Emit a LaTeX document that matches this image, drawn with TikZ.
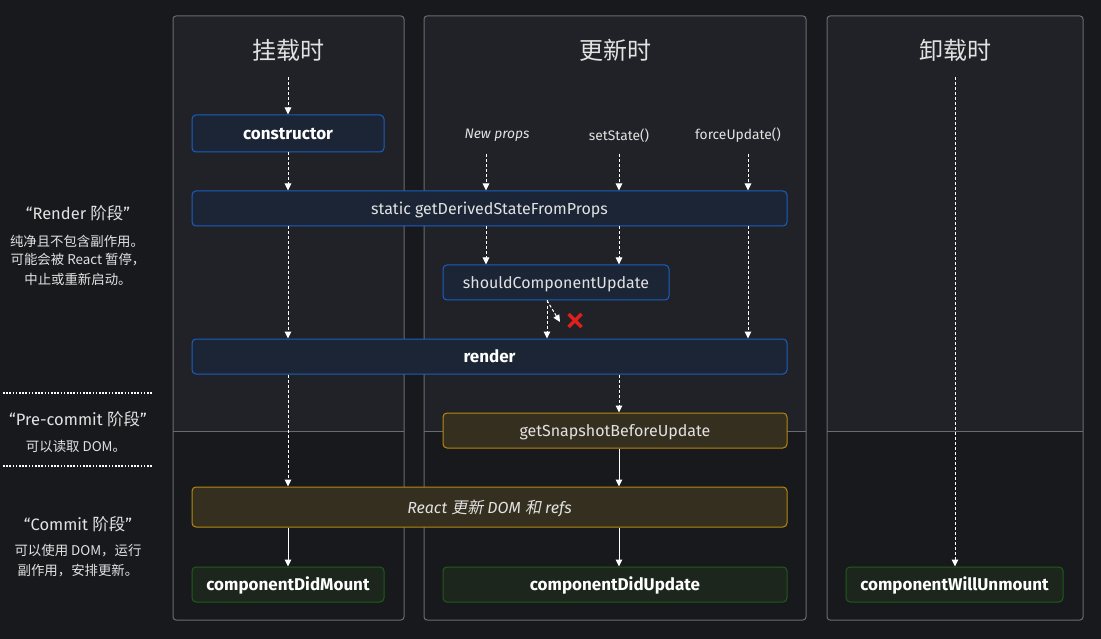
\documentclass[tikz,border=0pt]{standalone}
\usepackage{fontspec}
\setmainfont{Fira Sans}
\newfontfamily\cjk{Noto Sans CJK SC}
\newfontfamily\cjkit{Noto Sans CJK SC}[FakeSlant=0.2]
\usetikzlibrary{arrows.meta}
\definecolor{bg}{HTML}{18191D}
\definecolor{colup}{HTML}{202227}
\definecolor{frame}{HTML}{6A6B6E}
\definecolor{bbord}{HTML}{1A5FC0}
\definecolor{bfill}{HTML}{1B2535}
\definecolor{gbord}{HTML}{B8890E}
\definecolor{gfill}{HTML}{352F1F}
\definecolor{nbord}{HTML}{1E5D18}
\definecolor{nfill}{HTML}{1C261D}
\definecolor{txt}{HTML}{E2E2E2}
\definecolor{xred}{HTML}{E0201C}
\tikzset{
  colframe/.style={draw=frame, line width=1pt, rounded corners=3pt},
  divline/.style={draw=frame, line width=1pt},
  boxbase/.style={rounded corners=4pt, line width=1pt, inner sep=0pt, text=txt, text height=13pt, text depth=1pt, font=\fontsize{16}{19}\selectfont},
  boldtxt/.style={font=\bfseries\fontsize{17}{20}\selectfont, text=white},
  bluebox/.style={boxbase, draw=bbord, fill=bfill},
  goldbox/.style={boxbase, draw=gbord, fill=gfill},
  greenbox/.style={boxbase, draw=nbord, fill=nfill},
  ttl/.style={text=txt, font=\cjk\fontsize{24}{28}\selectfont},
  lbl/.style={text=txt, font=\fontsize{13.8}{16}\selectfont},
  lhead/.style={text=txt, font=\fontsize{16.5}{20}\selectfont},
  lbody/.style={text=txt, font=\cjk\fontsize{13.4}{16}\selectfont},
  da/.style={draw=white, line width=1pt, dash pattern=on 3pt off 2pt, -{Triangle[length=7pt,width=6.5pt]}},
  sa/.style={draw=white, line width=1pt, -{Triangle[length=7pt,width=6.5pt]}},
  dotline/.style={draw=white, line width=1.6pt, dash pattern=on 1.6pt off 1.6pt},
}
\begin{document}
\begin{tikzpicture}[x=1pt,y=-1pt]
\useasboundingbox (0,0) rectangle (1101,639);
\fill[bg] (0,0) rectangle (1101,639);

% columns
\fill[colup] (173,431) [rounded corners=3pt] -- (173,16) -- (404,16) [sharp corners] -- (404,431) -- cycle;
\fill[colup] (424,431) [rounded corners=3pt] -- (424,16) -- (806,16) [sharp corners] -- (806,431) -- cycle;
\fill[colup] (827,431) [rounded corners=3pt] -- (827,16) -- (1083,16) [sharp corners] -- (1083,431) -- cycle;
\draw[divline] (173,431) -- (404,431);
\draw[divline] (424,431) -- (806,431);
\draw[divline] (827,431) -- (1083,431);
\draw[colframe] (173,16) rectangle (404,620);
\draw[colframe] (424,16) rectangle (806,620);
\draw[colframe] (827,16) rectangle (1083,620);

% titles
\node[ttl] (tmount) at (288,50) {挂载时};
\node[ttl] (tupd) at (615,50) {更新时};
\node[ttl] (tunm) at (955,50) {卸载时};

% boxes
\node[bluebox, boldtxt, minimum width=192pt, minimum height=37pt] (ctor) at (288,133.5) {constructor};
\node[bluebox, minimum width=595pt, minimum height=35pt] (gdsfp) at (489.5,208.5) {static getDerivedStateFromProps};
\node[bluebox, minimum width=226pt, minimum height=35pt] (scu) at (556,282.5) {shouldComponentUpdate};
\node[bluebox, boldtxt, minimum width=595pt, minimum height=35pt] (render) at (489.5,356.5) {render};
\node[goldbox, minimum width=344pt, minimum height=35pt] (gsbu) at (615,430.5) {getSnapshotBeforeUpdate};
\node[goldbox, minimum width=595pt, minimum height=40pt] (rdom) at (489.5,507) {\itshape React {\cjkit 更新} DOM {\cjkit 和} refs};
\node[greenbox, boldtxt, minimum width=192pt, minimum height=35pt] (cdm) at (288,584.5) {componentDidMount};
\node[greenbox, boldtxt, minimum width=344pt, minimum height=35pt] (cdu) at (615,584.5) {componentDidUpdate};
\node[greenbox, boldtxt, minimum width=217pt, minimum height=35pt] (cwu) at (954.5,584.5) {componentWillUnmount};

% trigger labels
\node[lbl, font=\itshape\fontsize{13.8}{16}\selectfont] (np) at (497,135.5) {New props};
\node[lbl] (ss) at (619,135.5) {setState()};
\node[lbl] (fu) at (738,135.5) {forceUpdate()};

% arrow anchors
\coordinate (t1) at (288,77);
\coordinate (t3) at (955,77);
\coordinate (a1) at (486,154);
\coordinate (a2) at (619,154);
\coordinate (a3) at (748,154);
\coordinate (s1) at (547,300);
\coordinate (dx) at (560,322);

% mount column
\draw[da] (t1) -- (ctor.north);
\draw[da] (ctor.south) -- (ctor.south |- gdsfp.north);
\draw[da] (ctor.south |- gdsfp.south) -- (ctor.south |- render.north);
\draw[da] (ctor.south |- render.south) -- (ctor.south |- rdom.north);
\draw[sa] (ctor.south |- rdom.south) -- (cdm.north);

% update column
\draw[da] (a1) -- (a1 |- gdsfp.north);
\draw[da] (a1 |- gdsfp.south) -- (a1 |- scu.north);
\draw[da] (a2) -- (a2 |- gdsfp.north);
\draw[da] (a2 |- gdsfp.south) -- (a2 |- scu.north);
\draw[da] (a3) -- (a3 |- gdsfp.north);
\draw[da] (a3 |- gdsfp.south) -- (a3 |- render.north);
\draw[da] (s1 |- scu.south) -- (s1 |- render.north);
\draw[da] (s1 |- scu.south) -- (dx);
\draw[xred, line width=3.2pt] (568.5,314) -- (581.5,327) (581.5,314) -- (568.5,327);
\draw[da] (a2 |- render.south) -- (a2 |- gsbu.north);
\draw[sa] (a2 |- gsbu.south) -- (a2 |- rdom.north);
\draw[sa] (a2 |- rdom.south) -- (a2 |- cdu.north);

% unmount column
\draw[da] (t3) -- (t3 |- cwu.north);

% left legend
\node[lhead] (rh) at (78,213) {“Render {\cjk 阶段}”};
\node[lbody] (rb1) at (77,241) {纯净且不包含副作用。};
\node[lbody] (rb2) at (78,260) {可能会被 React 暂停，};
\node[lbody] (rb3) at (78,279) {中止或重新启动。};
\draw[dotline] (3,393) -- (153,393);
\node[lhead] (ph) at (78,419) {“Pre-commit {\cjk 阶段}”};
\node[lbody] (pb1) at (76,446) {可以读取 DOM。};
\draw[dotline] (3,466) -- (153,466);
\node[lhead] (ch) at (78,524) {“Commit {\cjk 阶段}”};
\node[lbody] (cb1) at (78,551) {可以使用 DOM，运行};
\node[lbody] (cb2) at (78,571) {副作用，安排更新。};
\end{tikzpicture}
\end{document}
